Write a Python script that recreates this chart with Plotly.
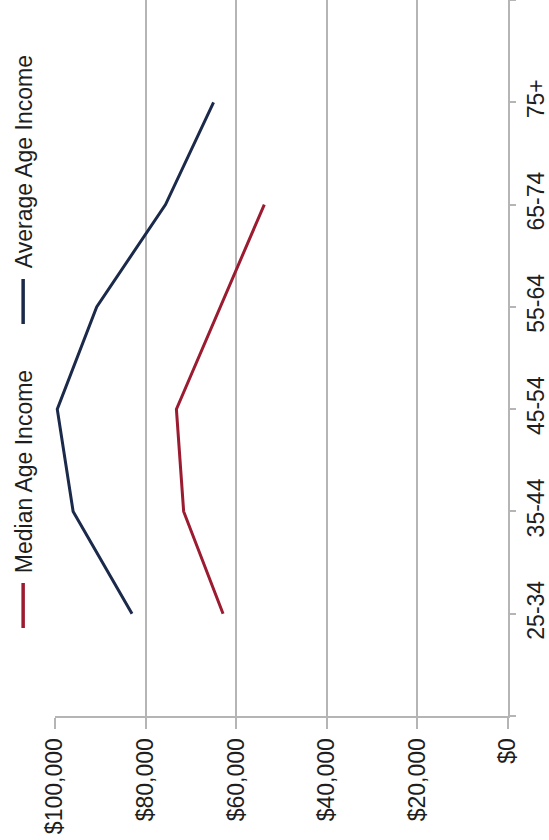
import plotly.graph_objects as go

categories = ["25-34", "35-44", "45-54", "55-64", "65-74", "75+"]
average_income = [83000, 96000, 99500, 90800, 75600, 65000]
median_income = [62900, 71600, 73200, 63500, 53800]
value_ticks = [0, 20000, 40000, 60000, 80000, 100000]

series_names = ["Average Age Income", "Median Age Income"]
colors = ["#1b2a4a", "#9b1b30"]

FONT = "Liberation Sans, Arial, sans-serif"
FS = 23
GRID = "#b5b5b5"
TXT = "#1e1e1e"

idx = list(range(len(categories)))

fig = go.Figure()
fig.add_trace(go.Scatter(x=average_income, y=idx[:len(average_income)], mode="lines",
                         line=dict(color=colors[0], width=3), name=series_names[0]))
fig.add_trace(go.Scatter(x=median_income, y=idx[:len(median_income)], mode="lines",
                         line=dict(color=colors[1], width=3), name=series_names[1]))

fig.update_layout(
    width=549, height=840,
    margin=dict(l=55, r=39, t=0, b=124),
    paper_bgcolor="white", plot_bgcolor="white",
    showlegend=False,
    font=dict(family=FONT, size=FS, color=TXT),
    xaxis=dict(
        range=[100000, 0],
        tickmode="array",
        tickvals=value_ticks,
        ticktext=["$" + f"{v:,}" for v in value_ticks],
        tickangle=-90,
        showgrid=True, gridcolor=GRID, gridwidth=2,
        showline=True, linecolor=GRID, linewidth=2,
        ticks="outside", ticklen=11, tickwidth=2, tickcolor=GRID,
        zeroline=False,
        tickfont=dict(family=FONT, size=FS, color=TXT),
    ),
    yaxis=dict(
        range=[-1, len(categories)],
        side="right",
        tickmode="array",
        tickvals=[-1] + idx + [len(categories)],
        ticktext=[""] + categories + [""],
        tickangle=-90,
        showgrid=False,
        showline=True, linecolor=GRID, linewidth=2,
        ticks="outside", ticklen=6, tickwidth=2, tickcolor=GRID,
        zeroline=False,
        tickfont=dict(family=FONT, size=FS, color=TXT),
    ),
)

# Rotated legend (text + line markers)
legend_items = [
    (series_names[0], colors[0], 162, 279, 324),
    (series_names[1], colors[1], 472, 583, 628),
]
plot_left, plot_w, plot_h = 55, 455, 716
for name, col, ymid, y0, y1 in legend_items:
    fig.add_annotation(
        text=name, textangle=-90, showarrow=False,
        xref="paper", yref="paper",
        x=(24 - plot_left) / plot_w, y=(plot_h - ymid) / plot_h,
        xanchor="center", yanchor="middle",
        font=dict(family=FONT, size=FS, color=TXT),
    )
    fig.add_shape(
        type="line", xref="paper", yref="paper",
        x0=(23 - plot_left) / plot_w, x1=(23 - plot_left) / plot_w,
        y0=(plot_h - y0) / plot_h, y1=(plot_h - y1) / plot_h,
        line=dict(color=col, width=3.5),
    )

fig.write_html("out.html")
